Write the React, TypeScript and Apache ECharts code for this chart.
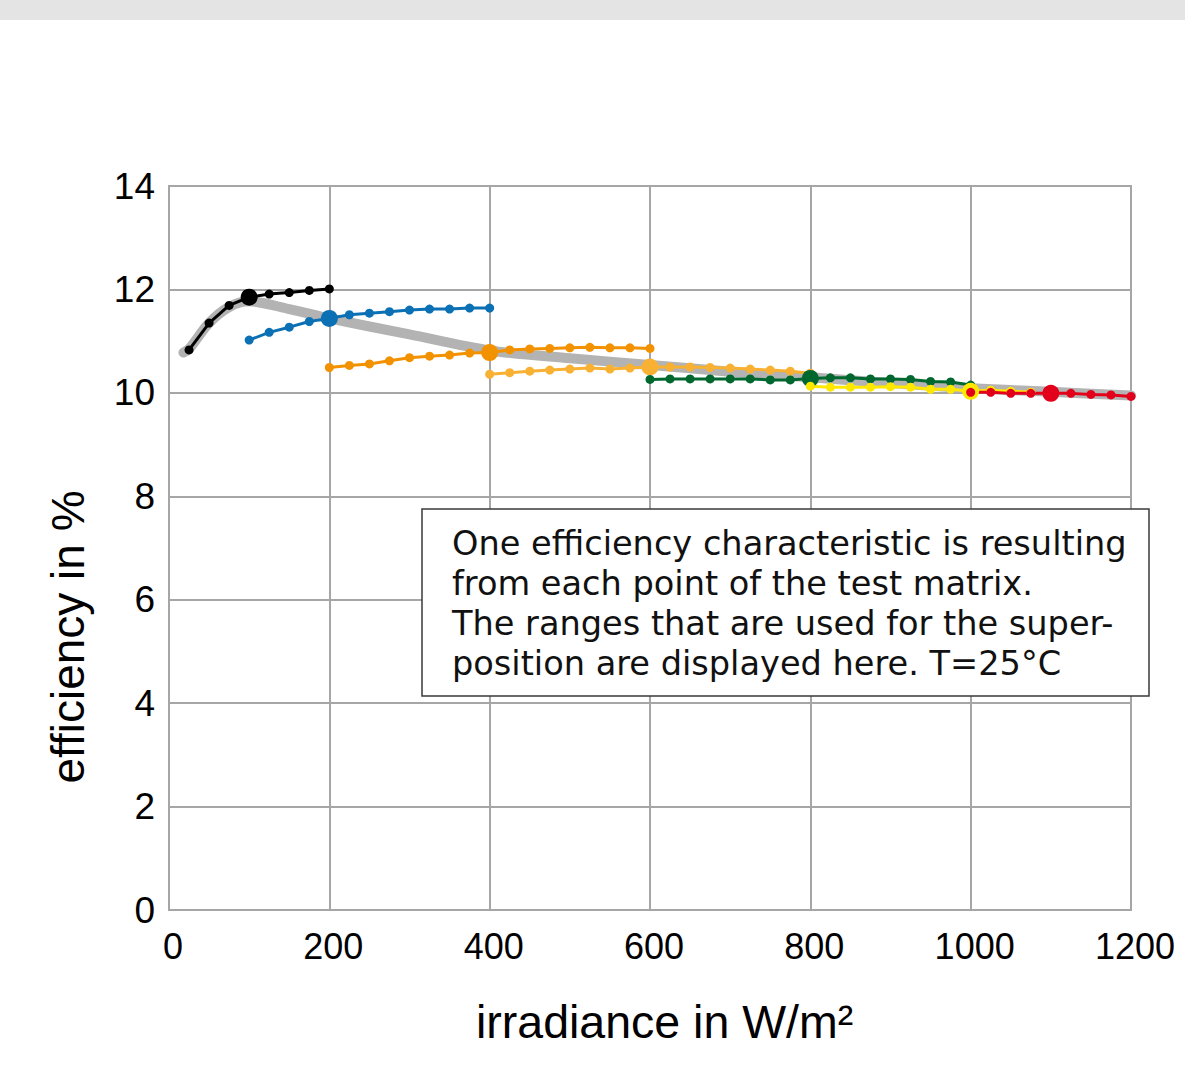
import { useEffect, useRef } from "react";
import * as echarts from "echarts";

// Axis ranges and ticks
const xMin = 0;
const xMax = 1200;
const xStep = 200;
const yMin = 0;
const yMax = 14;
const yStep = 2;

// Superposed efficiency characteristic (thick grey band)
const superX = [18, 25, 50, 75, 100, 150, 200, 300, 400, 500, 600, 700, 800, 900, 1000, 1100, 1200];
const superY = [10.78, 10.85, 11.35, 11.66, 11.77, 11.62, 11.44, 11.13, 10.82, 10.67, 10.54, 10.41, 10.3, 10.19, 10.09, 10.02, 9.95];

// Single characteristics, one per test-matrix point
const blackX = [25, 50, 75, 100, 125, 150, 175, 200];
const blackY = [10.83, 11.35, 11.69, 11.85, 11.91, 11.94, 11.98, 12.01];

const blueX = [100, 125, 150, 175, 200, 225, 250, 275, 300, 325, 350, 375, 400];
const blueY = [11.02, 11.17, 11.27, 11.38, 11.44, 11.51, 11.54, 11.57, 11.6, 11.62, 11.62, 11.64, 11.64];

const orangeX = [200, 225, 250, 275, 300, 325, 350, 375, 400, 425, 450, 475, 500, 525, 550, 575, 600];
const orangeY = [10.49, 10.53, 10.56, 10.62, 10.68, 10.71, 10.73, 10.77, 10.78, 10.83, 10.85, 10.86, 10.87, 10.88, 10.87, 10.87, 10.86];

const lightOrangeX = [400, 425, 450, 475, 500, 525, 550, 575, 600, 625, 650, 675, 700, 725, 750, 775, 800];
const lightOrangeY = [10.36, 10.39, 10.42, 10.44, 10.46, 10.48, 10.46, 10.48, 10.5, 10.5, 10.5, 10.49, 10.48, 10.46, 10.44, 10.42, 10.38];

const greenX = [600, 625, 650, 675, 700, 725, 750, 775, 800, 825, 850, 875, 900, 925, 950, 975, 1000];
const greenY = [10.26, 10.27, 10.27, 10.27, 10.27, 10.27, 10.25, 10.25, 10.28, 10.29, 10.29, 10.27, 10.27, 10.26, 10.22, 10.21, 10.15];

const yellowX = [800, 825, 850, 875, 900, 925, 950, 975, 1000, 1025, 1050, 1075];
const yellowY = [10.13, 10.11, 10.11, 10.11, 10.12, 10.11, 10.07, 10.07, 10.03, 10.05, 10.03, 10.01];

const redX = [1000, 1025, 1050, 1075, 1100, 1125, 1150, 1175, 1200];
const redY = [10.01, 10.01, 9.99, 9.99, 9.99, 9.99, 9.97, 9.96, 9.93];

// Irradiance of the matrix point each characteristic belongs to
const matrixPoints = [100, 200, 400, 600, 800, 1000, 1100];

const noteLines = [
  "One efficiency characteristic is resulting",
  "from each point of the test matrix.",
  "The ranges that are used for the super-",
  "position are displayed here. T=25°C",
];

const curves = [
  { x: blackX, y: blackY, color: "#000000", at: matrixPoints[0] },
  { x: blueX, y: blueY, color: "#0b70b4", at: matrixPoints[1] },
  { x: orangeX, y: orangeY, color: "#f39200", at: matrixPoints[2] },
  { x: lightOrangeX, y: lightOrangeY, color: "#f8b133", at: matrixPoints[3] },
  { x: greenX, y: greenY, color: "#00672f", at: matrixPoints[4] },
  { x: yellowX, y: yellowY, color: "#ffe800", at: matrixPoints[5] },
  { x: redX, y: redY, color: "#e2001a", at: matrixPoints[6] },
];

const AXIS_FONT = "'Liberation Sans', Arial, Helvetica, sans-serif";
const NOTE_FONT = "'DejaVu Sans', 'Open Sans', sans-serif";
const GRID_COLOR = "#a6a6a6";

export default function App() {
  const ref = useRef<HTMLDivElement>(null);

  useEffect(() => {
    if (!ref.current) return;
    const chart = echarts.init(ref.current, null, { renderer: "svg" });

    const curveSeries = curves.map((c) => ({
      type: "line",
      silent: true,
      symbol: "circle",
      showSymbol: true,
      color: c.color,
      lineStyle: { color: c.color, width: 3 },
      itemStyle: { color: c.color },
      data: c.x.map((v, i) => ({
        value: [v, c.y[i]],
        symbolSize: v === c.at ? 17 : 9,
      })),
    }));

    // Explanatory note: one text element per line inside a framed box
    const noteTexts = noteLines.map((line, i) => ({
      type: "text",
      z: 101,
      x: 452,
      y: 523 + i * 40,
      style: {
        text: line,
        fontFamily: NOTE_FONT,
        fontSize: 33.6,
        lineHeight: 40,
        fill: "#111111",
        align: "left",
        verticalAlign: "top",
      },
      silent: true,
    }));

    chart.setOption({
      animation: false,
      backgroundColor: "#ffffff",
      grid: {
        left: 169,
        top: 186,
        width: 962,
        height: 724,
        containLabel: false,
        show: true,
        borderColor: GRID_COLOR,
        borderWidth: 2,
      },
      xAxis: {
        type: "value",
        min: xMin,
        max: xMax,
        interval: xStep,
        axisLine: { show: true, lineStyle: { color: GRID_COLOR, width: 2 } },
        axisTick: { show: false },
        splitLine: { show: true, lineStyle: { color: GRID_COLOR, width: 2 } },
        axisLabel: {
          color: "#000000",
          fontFamily: AXIS_FONT,
          fontSize: 36,
          margin: 18,
          padding: [0, 0, 0, 8],
          formatter: (v: number) => String(v),
        },
      },
      yAxis: {
        type: "value",
        min: yMin,
        max: yMax,
        interval: yStep,
        axisLine: { show: true, lineStyle: { color: GRID_COLOR, width: 2 } },
        axisTick: { show: false },
        splitLine: { show: true, lineStyle: { color: GRID_COLOR, width: 2 } },
        axisLabel: {
          color: "#000000",
          fontFamily: AXIS_FONT,
          fontSize: 37,
          margin: 14,
          formatter: (v: number) => String(v),
        },
      },
      graphic: [
        {
          type: "rect",
          left: 0,
          top: 0,
          shape: { width: 1185, height: 20 },
          style: { fill: "#e3e4e3" },
          silent: true,
        },
        {
          type: "text",
          x: 68,
          y: 637,
          rotation: Math.PI / 2,
          style: {
            text: "efficiency in %",
            fontFamily: AXIS_FONT,
            fontSize: 46,
            fill: "#000000",
            align: "center",
            verticalAlign: "middle",
          },
          silent: true,
        },
        {
          type: "text",
          x: 476,
          y: 1022,
          style: {
            text: "irradiance in W/m²",
            fontFamily: AXIS_FONT,
            fontSize: 46.5,
            fill: "#000000",
            align: "left",
            verticalAlign: "middle",
          },
          silent: true,
        },
        {
          type: "rect",
          z: 100,
          shape: { x: 422, y: 509, width: 727, height: 187 },
          style: { fill: "#ffffff", stroke: "#3a3a3a", lineWidth: 1.5 },
          silent: true,
        },
        ...noteTexts,
      ],
      series: [
        {
          type: "line",
          silent: true,
          smooth: 0.3,
          showSymbol: false,
          symbol: "none",
          lineStyle: { color: "#b3b3b3", width: 10, cap: "round", join: "round" },
          data: superX.map((v, i) => [v, superY[i]]),
        },
        ...curveSeries,
      ],
    });

    return () => chart.dispose();
  }, []);

  return (
    <div
      ref={ref}
      style={{ position: "absolute", left: 0, top: 0, width: 1185, height: 1088 }}
    />
  );
}
